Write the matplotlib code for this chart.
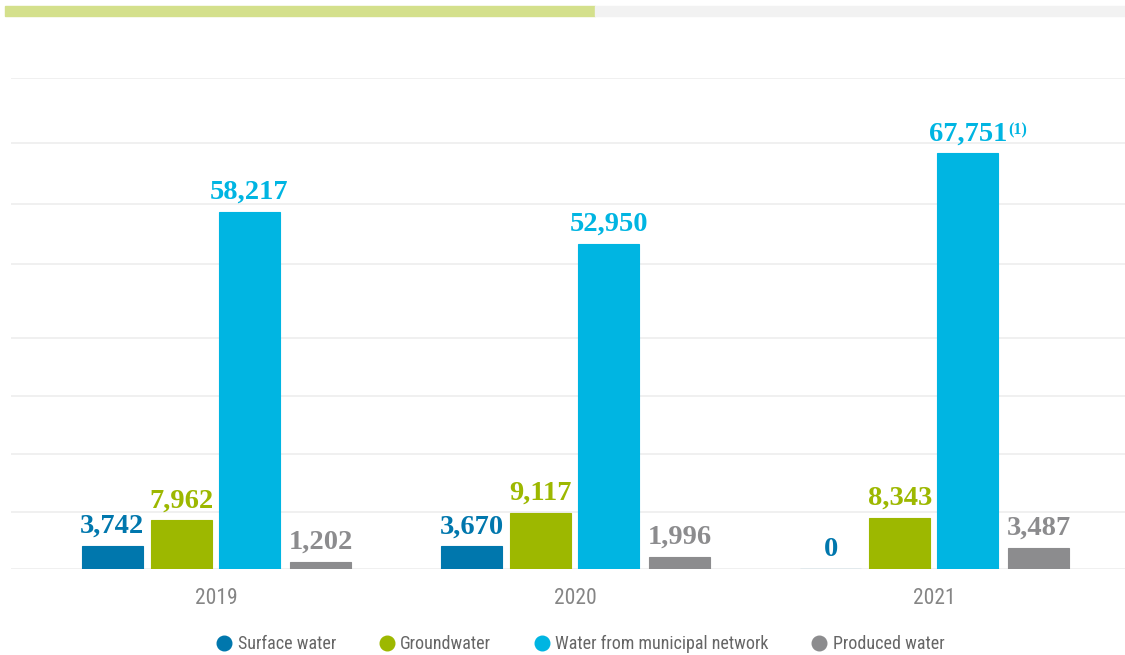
import matplotlib
matplotlib.use('Agg')
import matplotlib.pyplot as plt
import numpy as np
from matplotlib.lines import Line2D
from matplotlib.patches import Rectangle

# data
years = ['2019', '2020', '2021']
series_names = ['Surface water', 'Groundwater', 'Water from municipal network', 'Produced water']
surface = [3742, 3670, 0]
ground = [7962, 9117, 8343]
municipal = [58217, 52950, 67751]
produced = [1202, 1996, 3487]
series = [surface, ground, municipal, produced]
# horizontal guide lines as they sit in the picture (uneven)
grid_levels = [0, 9300, 18700, 28200, 37600, 49700, 59400, 69400, 80000]

COLORS = ['#0077AD', '#9DB800', '#00B5E2', '#8C8C8E']
SERIF = ['Liberation Serif', 'DejaVu Serif']
SANS = ['Liberation Sans Narrow', 'Roboto Condensed', 'Liberation Sans', 'DejaVu Sans']

fig = plt.figure(figsize=(11.25, 6.55), dpi=100)
ax = fig.add_axes([11 / 1125, 86 / 655, 1 - 11 / 1125, 491 / 655])

# decorative progress bar on top
fig.patches.append(Rectangle((5 / 1125, 1 - 16 / 655), 590 / 1125, 10 / 655,
                             transform=fig.transFigure, color='#D4E08C', zorder=0))
fig.patches.append(Rectangle((595 / 1125, 1 - 16 / 655), 530 / 1125, 10 / 655,
                             transform=fig.transFigure, color='#F2F2F2', zorder=0))

for g in grid_levels:
    ax.axhline(g, color='#EDEDED', lw=1.2, zorder=0)

index = np.arange(len(years))
width = 0.17
offsets = [-0.290, -0.097, 0.092, 0.290]

labels = []
for i, vals in enumerate(series):
    bars = ax.bar(index + offsets[i], vals, width, color=COLORS[i],
                  edgecolor=COLORS[i], linewidth=0.8, zorder=2)
    for b, v in zip(bars, vals):
        t = ax.annotate('{:,}'.format(v), (b.get_x() + b.get_width() / 2, v),
                        xytext=(0, 5), textcoords='offset points',
                        ha='center', va='bottom', color=COLORS[i],
                        fontsize=20.5, fontweight='bold', family=SERIF)
        labels.append((i, v, t))

# footnote mark on the 2021 municipal value
for i, v, t in labels:
    if i == 2 and v == municipal[2]:
        ax.annotate('(1)', xy=(1, 1), xycoords=t, xytext=(1, -1),
                    textcoords='offset points', ha='left', va='top',
                    color=COLORS[2], fontsize=11.5, fontweight='bold', family=SERIF)

ax.set_xlim(-0.572, 2.53)
ax.set_ylim(0, 80000)
ax.set_xticks(index)
ax.set_xticklabels(years, family=SANS, fontsize=15.5, color='#858585')
ax.tick_params(axis='x', length=0, pad=14)
ax.set_yticks([])
for s in ax.spines.values():
    s.set_visible(False)

handles = [Line2D([], [], marker='o', linestyle='', markersize=10.5,
                  markerfacecolor=c, markeredgecolor=c) for c in COLORS]
fig.legend(handles, series_names, loc='center', bbox_to_anchor=(580 / 1125, 1 - 644 / 655),
           ncol=4, frameon=False, handletextpad=0.25, columnspacing=2.3,
           handlelength=1.0, prop={'family': SANS, 'size': 13},
           labelcolor='#666666')

fig.savefig('out.png', dpi=100)
